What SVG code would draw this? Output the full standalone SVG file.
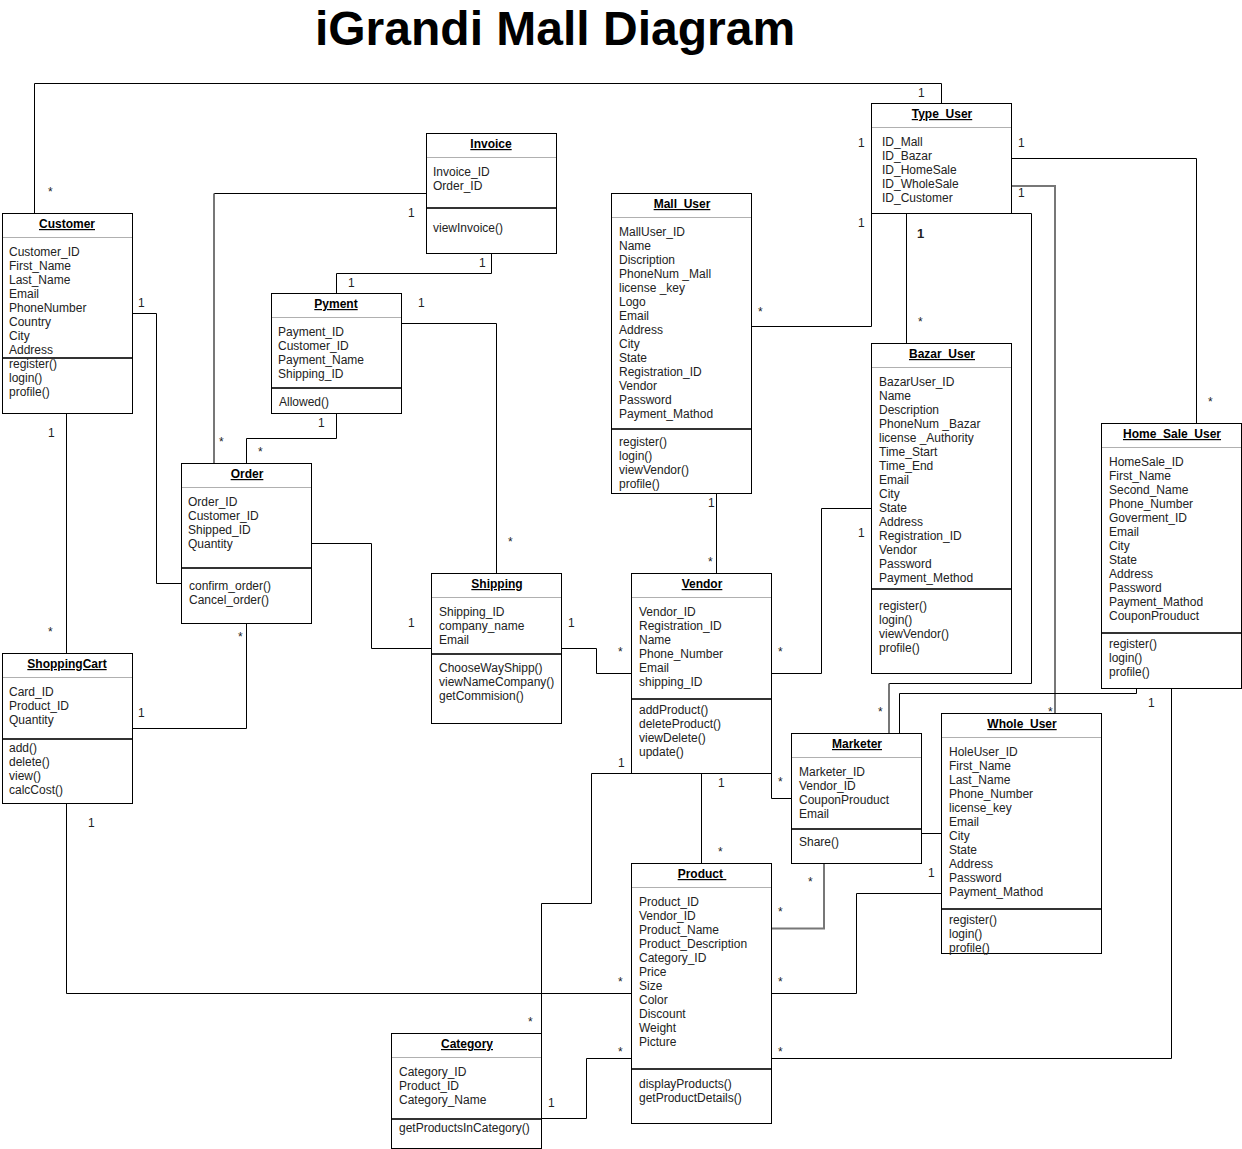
<svg xmlns="http://www.w3.org/2000/svg" width="1242" height="1149" viewBox="0 0 1242 1149">
<style>
.box{fill:#fff;stroke:#000;stroke-width:1}
.hs{stroke:#b0b0b0;stroke-width:1}
.ms{stroke:#333;stroke-width:2}
.t{font-family:"Liberation Sans",Arial,sans-serif;font-size:12px;fill:#222}
.h{font-weight:bold;text-decoration:underline;text-anchor:middle;fill:#000}
.c{fill:none;stroke:#000;stroke-width:1}
.g{fill:none;stroke:#777;stroke-width:2}
.l{font-family:"Liberation Sans",Arial,sans-serif;font-size:12px;fill:#222}
</style>
<rect width="1242" height="1149" fill="#fff"/>
<text x="555" y="45" font-family="'Liberation Sans',Arial,sans-serif" font-size="48" font-weight="bold" text-anchor="middle">iGrandi Mall Diagram</text>

<g id="connectors">
<polyline class="c" points="34.5,213 34.5,83.5 941.5,83.5 941.5,103"/>
<polyline class="c" points="426,193.5 214,193.5"/>
<polyline class="g" points="214,193.5 214,463"/>
<polyline class="c" points="491.5,253 491.5,273.5 336.5,273.5 336.5,293"/>
<polyline class="c" points="401,323.5 496.5,323.5 496.5,573"/>
<polyline class="c" points="336.5,413 336.5,438.5 246.5,438.5 246.5,463"/>
<polyline class="c" points="132,313.5 156.5,313.5 156.5,583.5 181,583.5"/>
<polyline class="c" points="66.5,413 66.5,653"/>
<polyline class="c" points="132,728.5 246.5,728.5 246.5,623"/>
<polyline class="c" points="66.5,803 66.5,993.5 631,993.5"/>
<polyline class="c" points="311,543.5 371.5,543.5 371.5,648.5 431,648.5"/>
<polyline class="c" points="561,648.5 596.5,648.5 596.5,673.5 631,673.5"/>
<polyline class="c" points="716.5,493 716.5,573"/>
<polyline class="c" points="751,326.5 871.5,326.5 871.5,213"/>
<polyline class="c" points="906.5,213 906.5,343"/>
<polyline class="c" points="1011,158.5 1196.5,158.5 1196.5,423"/>
<polyline class="g" points="1011,186 1055,186 1055,713"/>
<polyline class="c" points="1011,213.5 1031.5,213.5 1031.5,683.5 889,683.5"/>
<polyline class="g" points="889,683.5 889,733"/>
<polyline class="c" points="1136.5,688 1136.5,693.5 899.5,693.5 899.5,733"/>
<polyline class="c" points="1171.5,688 1171.5,1058.5 771,1058.5"/>
<polyline class="c" points="771,673.5 821.5,673.5 821.5,508.5 871,508.5"/>
<polyline class="c" points="771.5,773 771.5,798.5 791,798.5"/>
<polyline class="c" points="701.5,773 701.5,863"/>
<polyline class="c" points="631,773.5 591.5,773.5 591.5,903.5 541.5,903.5 541.5,1033"/>
<polyline class="c" points="541,1118.5 586.5,1118.5 586.5,1058.5 631,1058.5"/>
<polyline class="c" points="921,833.5 941,833.5"/>
<polyline class="g" points="824,863 824,928.5 771,928.5"/>
<polyline class="c" points="941,893.5 856.5,893.5 856.5,993.5 771,993.5"/>
<g class="l">
<text x="48" y="196">*</text><text x="918" y="97">1</text>
<text x="408" y="217">1</text><text x="219" y="446">*</text>
<text x="479" y="267">1</text><text x="348" y="287">1</text>
<text x="418" y="307">1</text><text x="508" y="546">*</text>
<text x="318" y="427">1</text><text x="258" y="456">*</text>
<text x="138" y="307">1</text>
<text x="48" y="437">1</text><text x="48" y="636">*</text>
<text x="138" y="717">1</text><text x="238" y="641">*</text>
<text x="88" y="827">1</text><text x="618" y="986">*</text>
<text x="408" y="627">1</text>
<text x="568" y="627">1</text><text x="618" y="656">*</text>
<text x="708" y="507">1</text><text x="708" y="566">*</text>
<text x="758" y="316">*</text><text x="858" y="147">1</text><text x="858" y="227">1</text>
<text x="917" y="238" font-weight="bold" font-size="13">1</text><text x="918" y="326">*</text>
<text x="1018" y="147">1</text><text x="1208" y="406">*</text>
<text x="1018" y="197">1</text><text x="1048" y="716">*</text>
<text x="878" y="716">*</text>
<text x="1148" y="707">1</text><text x="778" y="1056">*</text>
<text x="778" y="656">*</text><text x="858" y="537">1</text>
<text x="778" y="786">*</text>
<text x="718" y="787">1</text><text x="718" y="856">*</text>
<text x="618" y="767">1</text><text x="528" y="1026">*</text>
<text x="548" y="1107">1</text><text x="618" y="1056">*</text>
<text x="808" y="886">*</text><text x="778" y="916">*</text>
<text x="928" y="877">1</text><text x="778" y="986">*</text>
</g>
</g>

<g id="customer">
<rect class="box" x="2.5" y="213.5" width="130" height="200"/>
<line class="hs" x1="3" y1="237.5" x2="132" y2="237.5"/>
<line class="ms" x1="3" y1="358" x2="132" y2="358"/>
<text class="t h" x="67" y="228">Customer</text>
<text class="t" y="256"><tspan x="9">Customer_ID</tspan><tspan x="9" dy="14">First_Name</tspan><tspan x="9" dy="14">Last_Name</tspan><tspan x="9" dy="14">Email</tspan><tspan x="9" dy="14">PhoneNumber</tspan><tspan x="9" dy="14">Country</tspan><tspan x="9" dy="14">City</tspan><tspan x="9" dy="14">Address</tspan><tspan x="9" dy="14">register()</tspan><tspan x="9" dy="14">login()</tspan><tspan x="9" dy="14">profile()</tspan></text>
</g>

<g id="invoice">
<rect class="box" x="426.5" y="133.5" width="130" height="120"/>
<line class="hs" x1="427" y1="157.5" x2="556" y2="157.5"/>
<line class="ms" x1="427" y1="208" x2="556" y2="208"/>
<text class="t h" x="491" y="148">Invoice</text>
<text class="t" y="176"><tspan x="433">Invoice_ID</tspan><tspan x="433" dy="14">Order_ID</tspan></text>
<text class="t" x="433" y="232">viewInvoice()</text>
</g>

<g id="pyment">
<rect class="box" x="271.5" y="293.5" width="130" height="120"/>
<line class="hs" x1="272" y1="317.5" x2="401" y2="317.5"/>
<line class="ms" x1="272" y1="388" x2="401" y2="388"/>
<text class="t h" x="336" y="308">Pyment</text>
<text class="t" y="336"><tspan x="278">Payment_ID</tspan><tspan x="278" dy="14">Customer_ID</tspan><tspan x="278" dy="14">Payment_Name</tspan><tspan x="278" dy="14">Shipping_ID</tspan></text>
<text class="t" x="279" y="406">Allowed()</text>
</g>

<g id="order">
<rect class="box" x="181.5" y="463.5" width="130" height="160"/>
<line class="hs" x1="182" y1="487.5" x2="311" y2="487.5"/>
<line class="ms" x1="182" y1="568" x2="311" y2="568"/>
<text class="t h" x="247" y="478">Order</text>
<text class="t" y="506"><tspan x="188">Order_ID</tspan><tspan x="188" dy="14">Customer_ID</tspan><tspan x="188" dy="14">Shipped_ID</tspan><tspan x="188" dy="14">Quantity</tspan></text>
<text class="t" y="590"><tspan x="189">confirm_order()</tspan><tspan x="189" dy="14">Cancel_order()</tspan></text>
</g>

<g id="shoppingcart">
<rect class="box" x="2.5" y="653.5" width="130" height="150"/>
<line class="hs" x1="3" y1="677.5" x2="132" y2="677.5"/>
<line class="ms" x1="3" y1="739" x2="132" y2="739"/>
<text class="t h" x="67" y="668">ShoppingCart</text>
<text class="t" y="696"><tspan x="9">Card_ID</tspan><tspan x="9" dy="14">Product_ID</tspan><tspan x="9" dy="14">Quantity</tspan></text>
<text class="t" y="752"><tspan x="9">add()</tspan><tspan x="9" dy="14">delete()</tspan><tspan x="9" dy="14">view()</tspan><tspan x="9" dy="14">calcCost()</tspan></text>
</g>

<g id="mall_user">
<rect class="box" x="611.5" y="193.5" width="140" height="300"/>
<line class="hs" x1="612" y1="217.5" x2="751" y2="217.5"/>
<line class="ms" x1="612" y1="429" x2="751" y2="429"/>
<text class="t h" x="682" y="208">Mall_User</text>
<text class="t" y="236"><tspan x="619">MallUser_ID</tspan><tspan x="619" dy="14">Name</tspan><tspan x="619" dy="14">Discription</tspan><tspan x="619" dy="14">PhoneNum _Mall</tspan><tspan x="619" dy="14">license _key</tspan><tspan x="619" dy="14">Logo</tspan><tspan x="619" dy="14">Email</tspan><tspan x="619" dy="14">Address</tspan><tspan x="619" dy="14">City</tspan><tspan x="619" dy="14">State</tspan><tspan x="619" dy="14">Registration_ID</tspan><tspan x="619" dy="14">Vendor</tspan><tspan x="619" dy="14">Password</tspan><tspan x="619" dy="14">Payment_Mathod</tspan></text>
<text class="t" y="446"><tspan x="619">register()</tspan><tspan x="619" dy="14">login()</tspan><tspan x="619" dy="14">viewVendor()</tspan><tspan x="619" dy="14">profile()</tspan></text>
</g>

<g id="type_user">
<rect class="box" x="871.5" y="103.5" width="140" height="110"/>
<line class="hs" x1="872" y1="127.5" x2="1011" y2="127.5"/>
<text class="t h" x="942" y="118">Type_User</text>
<text class="t" y="146"><tspan x="882">ID_Mall</tspan><tspan x="882" dy="14">ID_Bazar</tspan><tspan x="882" dy="14">ID_HomeSale</tspan><tspan x="882" dy="14">ID_WholeSale</tspan><tspan x="882" dy="14">ID_Customer</tspan></text>
</g>

<g id="bazar_user">
<rect class="box" x="871.5" y="343.5" width="140" height="330"/>
<line class="hs" x1="872" y1="367.5" x2="1011" y2="367.5"/>
<line class="ms" x1="872" y1="589" x2="1011" y2="589"/>
<text class="t h" x="942" y="358">Bazar_User</text>
<text class="t" y="386"><tspan x="879">BazarUser_ID</tspan><tspan x="879" dy="14">Name</tspan><tspan x="879" dy="14">Description</tspan><tspan x="879" dy="14">PhoneNum _Bazar</tspan><tspan x="879" dy="14">license _Authority</tspan><tspan x="879" dy="14">Time_Start</tspan><tspan x="879" dy="14">Time_End</tspan><tspan x="879" dy="14">Email</tspan><tspan x="879" dy="14">City</tspan><tspan x="879" dy="14">State</tspan><tspan x="879" dy="14">Address</tspan><tspan x="879" dy="14">Registration_ID</tspan><tspan x="879" dy="14">Vendor</tspan><tspan x="879" dy="14">Password</tspan><tspan x="879" dy="14">Payment_Method</tspan></text>
<text class="t" y="610"><tspan x="879">register()</tspan><tspan x="879" dy="14">login()</tspan><tspan x="879" dy="14">viewVendor()</tspan><tspan x="879" dy="14">profile()</tspan></text>
</g>

<g id="home_sale_user">
<rect class="box" x="1101.5" y="423.5" width="140" height="265"/>
<line class="hs" x1="1102" y1="447.5" x2="1241" y2="447.5"/>
<line class="ms" x1="1102" y1="633" x2="1241" y2="633"/>
<text class="t h" x="1172" y="438">Home_Sale_User</text>
<text class="t" y="466"><tspan x="1109">HomeSale_ID</tspan><tspan x="1109" dy="14">First_Name</tspan><tspan x="1109" dy="14">Second_Name</tspan><tspan x="1109" dy="14">Phone_Number</tspan><tspan x="1109" dy="14">Goverment_ID</tspan><tspan x="1109" dy="14">Email</tspan><tspan x="1109" dy="14">City</tspan><tspan x="1109" dy="14">State</tspan><tspan x="1109" dy="14">Address</tspan><tspan x="1109" dy="14">Password</tspan><tspan x="1109" dy="14">Payment_Mathod</tspan><tspan x="1109" dy="14">CouponProuduct</tspan></text>
<text class="t" y="648"><tspan x="1109">register()</tspan><tspan x="1109" dy="14">login()</tspan><tspan x="1109" dy="14">profile()</tspan></text>
</g>

<g id="shipping">
<rect class="box" x="431.5" y="573.5" width="130" height="150"/>
<line class="hs" x1="432" y1="597.5" x2="561" y2="597.5"/>
<line class="ms" x1="432" y1="654" x2="561" y2="654"/>
<text class="t h" x="497" y="588">Shipping</text>
<text class="t" y="616"><tspan x="439">Shipping_ID</tspan><tspan x="439" dy="14">company_name</tspan><tspan x="439" dy="14">Email</tspan></text>
<text class="t" y="672"><tspan x="439">ChooseWayShipp()</tspan><tspan x="439" dy="14">viewNameCompany()</tspan><tspan x="439" dy="14">getCommision()</tspan></text>
</g>

<g id="vendor">
<rect class="box" x="631.5" y="573.5" width="140" height="200"/>
<line class="hs" x1="632" y1="597.5" x2="771" y2="597.5"/>
<line class="ms" x1="632" y1="699" x2="771" y2="699"/>
<text class="t h" x="702" y="588">Vendor</text>
<text class="t" y="616"><tspan x="639">Vendor_ID</tspan><tspan x="639" dy="14">Registration_ID</tspan><tspan x="639" dy="14">Name</tspan><tspan x="639" dy="14">Phone_Number</tspan><tspan x="639" dy="14">Email</tspan><tspan x="639" dy="14">shipping_ID</tspan></text>
<text class="t" y="714"><tspan x="639">addProduct()</tspan><tspan x="639" dy="14">deleteProduct()</tspan><tspan x="639" dy="14">viewDelete()</tspan><tspan x="639" dy="14">update()</tspan></text>
</g>

<g id="marketer">
<rect class="box" x="791.5" y="733.5" width="130" height="130"/>
<line class="hs" x1="792" y1="757.5" x2="921" y2="757.5"/>
<line class="ms" x1="792" y1="829" x2="921" y2="829"/>
<text class="t h" x="857" y="748">Marketer</text>
<text class="t" y="776"><tspan x="799">Marketer_ID</tspan><tspan x="799" dy="14">Vendor_ID</tspan><tspan x="799" dy="14">CouponProuduct</tspan><tspan x="799" dy="14">Email</tspan></text>
<text class="t" x="799" y="846">Share()</text>
</g>

<g id="whole_user">
<rect class="box" x="941.5" y="713.5" width="160" height="240"/>
<line class="hs" x1="942" y1="737.5" x2="1101" y2="737.5"/>
<line class="ms" x1="942" y1="909" x2="1101" y2="909"/>
<text class="t h" x="1022" y="728">Whole_User</text>
<text class="t" y="756"><tspan x="949">HoleUser_ID</tspan><tspan x="949" dy="14">First_Name</tspan><tspan x="949" dy="14">Last_Name</tspan><tspan x="949" dy="14">Phone_Number</tspan><tspan x="949" dy="14">license_key</tspan><tspan x="949" dy="14">Email</tspan><tspan x="949" dy="14">City</tspan><tspan x="949" dy="14">State</tspan><tspan x="949" dy="14">Address</tspan><tspan x="949" dy="14">Password</tspan><tspan x="949" dy="14">Payment_Mathod</tspan></text>
<text class="t" y="924"><tspan x="949">register()</tspan><tspan x="949" dy="14">login()</tspan><tspan x="949" dy="14">profile()</tspan></text>
</g>

<g id="product">
<rect class="box" x="631.5" y="863.5" width="140" height="260"/>
<line class="hs" x1="632" y1="887.5" x2="771" y2="887.5"/>
<line class="ms" x1="632" y1="1069" x2="771" y2="1069"/>
<text class="t h" x="702" y="878" xml:space="preserve">Product </text>
<text class="t" y="906"><tspan x="639">Product_ID</tspan><tspan x="639" dy="14">Vendor_ID</tspan><tspan x="639" dy="14">Product_Name</tspan><tspan x="639" dy="14">Product_Description</tspan><tspan x="639" dy="14">Category_ID</tspan><tspan x="639" dy="14">Price</tspan><tspan x="639" dy="14">Size</tspan><tspan x="639" dy="14">Color</tspan><tspan x="639" dy="14">Discount</tspan><tspan x="639" dy="14">Weight</tspan><tspan x="639" dy="14">Picture</tspan></text>
<text class="t" y="1088"><tspan x="639">displayProducts()</tspan><tspan x="639" dy="14">getProductDetails()</tspan></text>
</g>

<g id="category">
<rect class="box" x="391.5" y="1033.5" width="150" height="115"/>
<line class="hs" x1="392" y1="1057.5" x2="541" y2="1057.5"/>
<line class="ms" x1="392" y1="1119" x2="541" y2="1119"/>
<text class="t h" x="467" y="1048">Category</text>
<text class="t" y="1076"><tspan x="399">Category_ID</tspan><tspan x="399" dy="14">Product_ID</tspan><tspan x="399" dy="14">Category_Name</tspan></text>
<text class="t" x="399" y="1132">getProductsInCategory()</text>
</g>
</svg>
